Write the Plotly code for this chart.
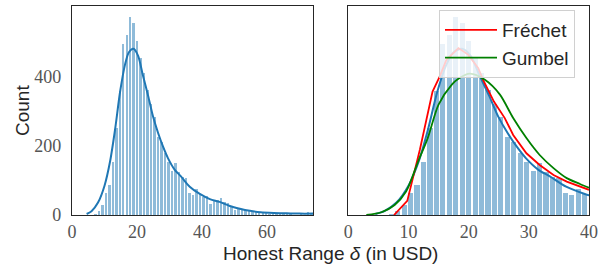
import numpy as np
import plotly.graph_objects as go

# ---- data ----
bin_lo = 4.5
bin_hi = 74.2
counts = [0, 1, 2, 11, 29, 64, 87, 155, 251, 360,
          495, 521, 575, 558, 505, 456, 411, 362, 323, 285,
          227, 212, 179, 155, 129, 150, 124, 110, 107, 64,
          58, 75, 61, 53, 55, 32, 43, 43, 49, 39,
          34, 26, 14, 19, 17, 14, 12, 10, 9, 8,
          6, 5, 4, 4, 3, 3, 2, 2, 2, 1,
          1, 2, 1, 8, 2]

kde_x = [4.5, 6, 8, 10, 11.7, 13.2, 14.8, 16.3, 17.5, 18.9, 20.3, 21.8, 23.4, 24.9,
         26.5, 28, 29.5, 31.6, 33.5, 36.2, 39.3, 42.4, 45.4, 48.5, 51.6, 54.7, 58,
         62, 66, 70, 74.2]
kde_y = [3, 11, 36, 85, 155, 245, 358, 436, 472, 482, 462, 405, 346, 286,
         237, 198, 165, 131, 112, 82, 61, 46, 38, 26, 18, 12, 8,
         6, 5, 4, 4]

frechet_x = [7.6, 9.8, 11.9, 14.0, 15.2, 16.3, 18.3, 19.9, 21.6, 22.4, 24.2, 26.0,
             27.4, 29.6, 31.8, 34.1, 36.3, 38.5, 40]
frechet_y = [0, 41, 190, 358, 402, 450, 484, 465, 426, 392, 329, 281,
             232, 179, 145, 116, 97, 82, 73]

gumbel_x = [3.0, 5.5, 7.7, 9.6, 11.6, 13.2, 15.0, 17.2, 18.3, 20.2, 22.7, 25.2,
            27.4, 29.6, 31.8, 34.1, 36.3, 38.5, 40]
gumbel_y = [0, 8, 29, 68, 155, 223, 320, 378, 395, 410, 392, 349,
            281, 223, 174, 136, 107, 90, 79]

left_xticks = [0, 20, 40, 60]
right_xticks = [0, 10, 20, 30, 40]
yticks = [0, 200, 400]

# ---- figure ----
edges = np.linspace(bin_lo, bin_hi, len(counts) + 1)
centers = (edges[:-1] + edges[1:]) / 2
bw = edges[1] - edges[0]

BAR = "rgba(31,119,180,0.5)"
BLUE = "#1f77b4"
SANS = "Liberation Sans, Arial, sans-serif"
SERIF = "Liberation Serif, DejaVu Serif, serif"

fig = go.Figure()
fig.add_trace(go.Bar(x=centers, y=counts, width=bw * 0.70, marker=dict(color=BAR, line_width=0),
                     xaxis="x", yaxis="y", showlegend=False, hoverinfo="skip"))
fig.add_trace(go.Bar(x=centers, y=counts, width=bw * 0.80, marker=dict(color=BAR, line_width=0),
                     xaxis="x2", yaxis="y2", showlegend=False, hoverinfo="skip"))
fig.add_trace(go.Scatter(x=kde_x, y=kde_y, mode="lines", line=dict(color=BLUE, width=2, shape="spline", smoothing=0.8),
                         xaxis="x", yaxis="y", showlegend=False))
fig.add_trace(go.Scatter(x=kde_x, y=kde_y, mode="lines", line=dict(color=BLUE, width=2, shape="spline", smoothing=0.8),
                         xaxis="x2", yaxis="y2", showlegend=False))
fig.add_trace(go.Scatter(x=frechet_x, y=frechet_y, mode="lines", name="Fréchet",
                         line=dict(color="red", width=1.8), xaxis="x2", yaxis="y2"))
fig.add_trace(go.Scatter(x=gumbel_x, y=gumbel_y, mode="lines", name="Gumbel",
                         line=dict(color="green", width=1.8, shape="spline", smoothing=0.8),
                         xaxis="x2", yaxis="y2"))

W, H = 610, 270
L, R, T, B = 72, 21, 6, 55
pw = W - L - R
ph = H - T - B

axis_common = dict(showline=True, mirror=True, linecolor="#262626", linewidth=1.25,
                   showgrid=False, zeroline=False, ticks="",
                   tickfont=dict(family=SERIF, size=18, color="#555555"))

fig.update_layout(
    width=W, height=H,
    margin=dict(l=L, r=R, t=T, b=B),
    paper_bgcolor="white", plot_bgcolor="white",
    bargap=0, barmode="overlay",
    xaxis=dict(domain=[0, (313.3 - L) / pw], range=[0, bin_hi], tickvals=left_xticks,
               anchor="y", ticklabelstandoff=0, **axis_common),
    xaxis2=dict(domain=[(348.3 - L) / pw, 1], range=[0, 40], tickvals=right_xticks,
                anchor="y2", ticklabelstandoff=0, **axis_common),
    yaxis=dict(range=[0, 606], tickvals=yticks, anchor="x", ticklabelstandoff=6, **axis_common),
    yaxis2=dict(range=[0, 606], tickvals=yticks, showticklabels=False, anchor="x2", **axis_common),
    legend=dict(x=(439 - L) / pw, y=(T + ph - 10) / ph, xanchor="left", yanchor="top",
                bgcolor="rgba(255,255,255,0.8)", bordercolor="#d0d0d0", borderwidth=1,
                itemwidth=52,
                font=dict(family=SANS, size=19, color="#262626")),
    annotations=[
        dict(text="Count", textangle=-90, x=(22.5 - L) / pw, y=0.5, xref="paper", yref="paper",
             xanchor="center", yanchor="middle", showarrow=False,
             font=dict(family=SANS, size=19, color="#262626")),
        dict(text="Honest Range <i>δ</i> (in USD)", x=(330 - L) / pw, y=(T + ph - 253) / ph,
             xref="paper", yref="paper", xanchor="center", yanchor="middle", showarrow=False,
             font=dict(family=SANS, size=19, color="#262626")),
    ],
)

fig.write_html("out.html", config={"displayModeBar": False},
               post_script="document.body.style.margin='0';")
